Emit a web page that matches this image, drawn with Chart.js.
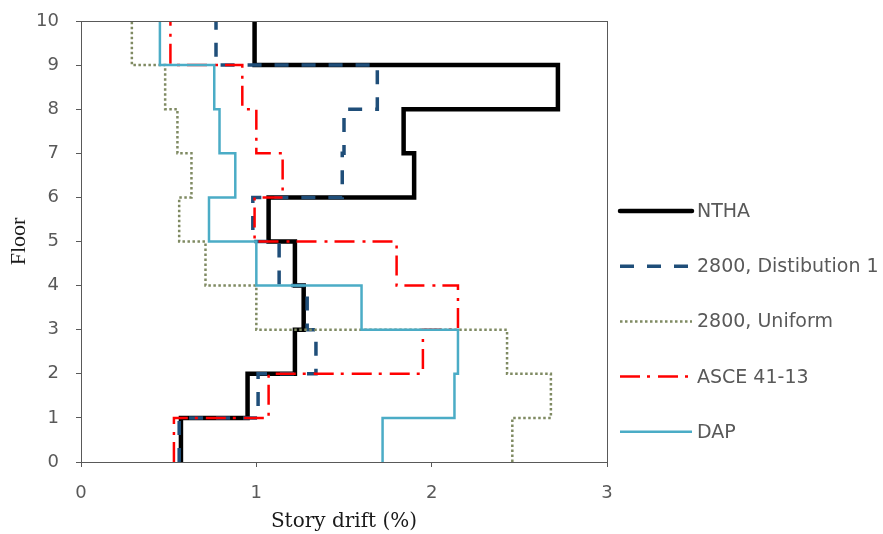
<!DOCTYPE html>
<html lang="en">
<head>
  <meta charset="UTF-8" />
  <title>Story drift profile</title>
  <script src="https://cdn.jsdelivr.net/npm/chart.js"></script>
  <style>
    html, body { margin: 0; padding: 0; background: #fff; }
    #wrap { width: 883px; height: 534px; position: relative; }
  </style>
</head>
<body>
  <div id="wrap"><canvas id="driftChart"></canvas></div>

  <script>
    // story drift (%) for stories 1..10 (index 0 = story between floor 0 and 1)
    const floorTicks = [0, 1, 2, 3, 4, 5, 6, 7, 8, 9, 10];
    const driftTicks = [0, 1, 2, 3];
    const seriesNames = ['NTHA', '2800, Distibution 1', '2800, Uniform', 'ASCE 41-13', 'DAP'];
    const nthaDrift    = [0.57, 0.95, 1.22, 1.27, 1.22, 1.07, 1.90, 1.84, 2.72, 0.99];
    const dist1Drift   = [0.56, 1.01, 1.34, 1.29, 1.13, 0.98, 1.49, 1.50, 1.69, 0.77];
    const uniformDrift = [2.46, 2.68, 2.43, 1.00, 0.71, 0.56, 0.63, 0.55, 0.48, 0.29];
    const asceDrift    = [0.53, 1.07, 1.95, 2.15, 1.80, 0.99, 1.15, 1.00, 0.92, 0.51];
    const dapDrift     = [1.72, 2.13, 2.15, 1.60, 1.00, 0.73, 0.88, 0.79, 0.76, 0.45];

    // turn per-story values into a step profile
    function stepProfile(values) {
      const pts = [];
      values.forEach((v, i) => {
        pts.push({ x: v, y: floorTicks[i] });
        pts.push({ x: v, y: floorTicks[i + 1] });
      });
      return pts;
    }

    const styles = [
      { color: '#000000', width: 4.5, dash: [], order: 5 },
      { color: '#1F4E79', width: 3.5, dash: [14, 13], order: 4 },
      { color: '#7F8A62', width: 2.5, dash: [2.5, 2.5], order: 3 },
      { color: '#FF0000', width: 2.5, dash: [20, 7, 3, 8], order: 2 },
      { color: '#4BACC6', width: 2.5, dash: [], order: 1 }
    ];
    const allValues = [nthaDrift, dist1Drift, uniformDrift, asceDrift, dapDrift];

    const datasets = allValues.map((vals, i) => ({
      label: seriesNames[i],
      data: stepProfile(vals),
      showLine: true,
      borderColor: styles[i].color,
      backgroundColor: styles[i].color,
      borderWidth: styles[i].width,
      borderDash: styles[i].dash,
      borderJoinStyle: 'miter',
      pointRadius: 0,
      pointHoverRadius: 0,
      tension: 0,
      order: styles[i].order
    }));

    // plot frame + legend on the right
    const frameAndLegend = {
      id: 'frameAndLegend',
      afterDatasetsDraw(chart) {
        const { ctx, chartArea } = chart;
        ctx.save();
        ctx.strokeStyle = '#595959';
        ctx.lineWidth = 1;
        ctx.strokeRect(chartArea.left + 0.5, chartArea.top + 0.5,
                       chartArea.right - chartArea.left, chartArea.bottom - chartArea.top);
        ctx.restore();
      },
      afterDraw(chart) {
        const ctx = chart.ctx;
        const x0 = 620, x1 = 692, top = 211, gap = 55.2;
        ctx.save();
        seriesNames.forEach((name, i) => {
          const y = top + i * gap;
          ctx.beginPath();
          ctx.strokeStyle = styles[i].color;
          ctx.lineWidth = styles[i].width;
          ctx.setLineDash(styles[i].dash);
          ctx.lineCap = i === 0 ? 'round' : 'butt';
          ctx.moveTo(x0, y);
          ctx.lineTo(x1, y);
          ctx.stroke();
          ctx.setLineDash([]);
          ctx.fillStyle = '#595959';
          ctx.font = '19px "DejaVu Sans"';
          ctx.textBaseline = 'middle';
          ctx.textAlign = 'left';
          ctx.fillText(name, 697, y + 1);
        });
        ctx.restore();
      }
    };

    const tickFont = { family: 'DejaVu Sans', size: 18 };

    new Chart(document.getElementById('driftChart'), {
      type: 'scatter',
      data: { datasets: datasets },
      options: {
        responsive: true,
        maintainAspectRatio: false,
        animation: false,
        layout: { padding: { left: 0, top: 21, right: 276, bottom: 0 } },
        plugins: {
          legend: { display: false },
          tooltip: { enabled: false }
        },
        scales: {
          x: {
            type: 'linear',
            min: driftTicks[0],
            max: driftTicks[driftTicks.length - 1],
            afterBuildTicks: (s) => { s.ticks = driftTicks.map(v => ({ value: v })); },
            afterFit: (s) => { s.height = 72; s.paddingLeft = 0; s.paddingRight = 0; },
            ticks: { color: '#595959', font: tickFont, padding: 16 },
            grid: { drawOnChartArea: false, drawTicks: true, tickLength: 5, color: '#595959' },
            border: { color: '#595959' },
            title: {
              display: true,
              text: 'Story drift (%)',
              color: '#1a1a1a',
              font: { family: 'DejaVu Serif', size: 20 },
              padding: { top: 0, bottom: 0 }
            }
          },
          y: {
            type: 'linear',
            min: floorTicks[0],
            max: floorTicks[floorTicks.length - 1],
            afterBuildTicks: (s) => { s.ticks = floorTicks.map(v => ({ value: v })); },
            afterFit: (s) => { s.width = 81; s.paddingTop = 0; s.paddingBottom = 0; },
            ticks: { color: '#595959', font: tickFont, padding: 17 },
            grid: { drawOnChartArea: false, drawTicks: true, tickLength: 5, color: '#595959' },
            border: { color: '#595959' },
            title: {
              display: true,
              text: 'Floor',
              color: '#1a1a1a',
              font: { family: 'Liberation Serif', size: 22 },
              padding: { top: 6, bottom: 0 }
            }
          }
        }
      },
      plugins: [frameAndLegend]
    });
  </script>
</body>
</html>
